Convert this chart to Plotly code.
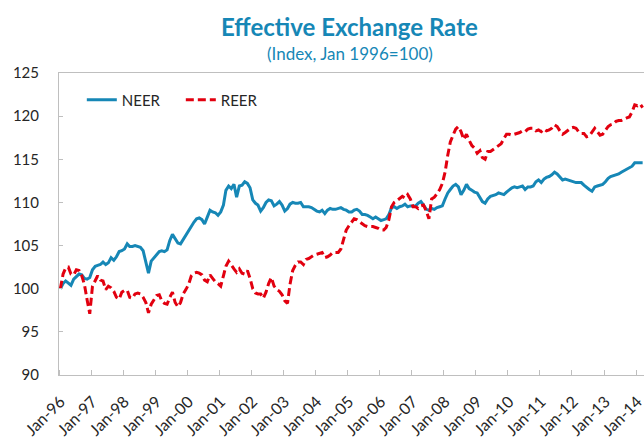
import pandas as pd
import plotly.graph_objects as go

# monthly index, Jan 1996 = 100
months = pd.date_range("1996-01-01", "2014-03-01", freq="MS")

neer = [
    # 1996
    100.0, 100.6, 100.9, 100.6, 100.4, 101.1, 101.4, 101.7, 101.6, 101.2, 101.1, 101.3,
    # 1997
    102.2, 102.6, 102.7, 102.8, 103.1, 102.8, 103.0, 103.6, 103.3, 103.7, 104.3, 104.4,
    # 1998
    104.6, 105.2, 104.9, 104.9, 105.0, 104.9, 104.8, 104.4, 103.2, 101.8, 103.2, 103.6,
    # 1999
    104.0, 104.3, 104.4, 104.3, 104.5, 105.6, 106.3, 105.8, 105.3, 105.2, 105.7, 106.2,
    # 2000
    106.8, 107.2, 107.7, 108.1, 108.2, 108.0, 107.5, 108.3, 109.1, 108.9, 108.8, 108.5,
    # 2001
    108.9, 109.7, 111.4, 111.9, 111.6, 112.1, 110.6, 111.9, 112.0, 112.4, 112.2, 111.7,
    # 2002
    110.3, 109.9, 109.7, 109.0, 109.4, 110.0, 110.3, 110.2, 109.6, 109.8, 110.1, 109.7,
    # 2003
    109.0, 109.3, 109.8, 110.0, 109.9, 109.9, 110.0, 109.5, 109.5, 109.5, 109.4, 109.2,
    # 2004
    109.0, 108.9, 109.1, 108.7, 109.1, 109.3, 109.2, 109.2, 109.3, 109.4, 109.2, 109.1,
    # 2005
    108.9, 108.9, 109.1, 109.2, 109.0, 108.6, 108.6, 108.5, 108.3, 108.1, 108.3, 108.1,
    # 2006
    107.9, 108.0, 108.1, 108.6, 109.4, 109.5, 109.3, 109.5, 109.6, 109.8, 109.5, 109.6,
    # 2007
    109.6, 109.6, 109.9, 110.1, 109.7, 109.2, 109.1, 109.3, 109.2, 109.4, 109.5, 109.6,
    # 2008
    110.4, 111.1, 111.5, 111.9, 112.1, 111.8, 110.9, 111.4, 112.1, 111.6, 111.4, 111.2,
    # 2009
    111.1, 110.6, 110.1, 109.9, 110.4, 110.7, 110.8, 110.9, 111.1, 111.0, 110.9, 111.2,
    # 2010
    111.5, 111.7, 111.8, 111.7, 111.8, 111.9, 111.5, 111.8, 111.8, 111.9, 112.4, 112.6,
    # 2011
    112.3, 112.7, 112.9, 113.0, 113.2, 113.5, 113.3, 112.9, 112.6, 112.7, 112.6, 112.5,
    # 2012
    112.4, 112.3, 112.3, 112.3, 112.0, 111.7, 111.5, 111.3, 111.8, 111.9, 112.0, 112.1,
    # 2013
    112.4, 112.8, 113.0, 113.1, 113.2, 113.3, 113.5, 113.7, 113.9, 114.0, 114.2, 114.6,
    # 2014
    114.6, 114.6, 114.6,
]

reer = [
    # 1996
    100.0, 101.7, 102.4, 102.5, 101.7, 101.6, 102.2, 102.1, 101.5, 100.5, 98.7, 97.1,
    # 1997
    100.3, 100.9, 101.5, 101.0, 100.9, 99.9, 100.3, 100.1, 99.7, 99.0, 98.8, 99.6,
    # 1998
    99.8, 99.8, 99.0, 98.9, 99.4, 99.5, 99.4, 99.0, 98.4, 97.2, 98.2, 98.7,
    # 1999
    99.2, 99.3, 98.6, 98.3, 98.2, 99.0, 99.6, 98.4, 97.9, 98.4, 99.4, 99.9,
    # 2000
    100.5, 101.5, 101.8, 101.9, 101.8, 101.6, 101.0, 100.8, 101.6, 101.2, 100.8, 100.6,
    # 2001
    100.3, 101.5, 102.6, 103.2, 102.7, 102.3, 101.9, 102.3, 101.8, 101.7, 102.1, 101.2,
    # 2002
    100.0, 99.5, 99.4, 99.4, 98.9, 99.6, 100.6, 101.3, 100.3, 99.9, 99.7, 99.3,
    # 2003
    98.6, 98.3, 100.5, 102.1, 102.7, 103.1, 103.1, 102.8, 103.4, 103.5, 103.7, 103.9,
    # 2004
    104.0, 104.1, 104.2, 103.6, 103.7, 103.9, 104.2, 104.2, 104.2, 104.6, 105.7, 106.8,
    # 2005
    107.3, 107.8, 108.1, 108.0, 107.8, 107.5, 107.3, 107.2, 107.2, 107.2, 107.1, 107.0,
    # 2006
    106.8, 106.8, 107.1, 108.0, 109.5, 110.0, 110.2, 110.4, 110.7, 110.5, 110.9, 110.4,
    # 2007
    109.5, 109.5, 109.3, 109.6, 109.7, 109.0, 108.1, 110.4, 110.6, 111.0, 111.5, 112.2,
    # 2008
    113.5, 115.5, 117.0, 117.8, 118.5, 118.8, 118.2, 117.3, 117.9, 117.2, 116.6, 116.3,
    # 2009
    115.7, 116.0, 115.2, 115.0, 115.9, 115.9, 116.1, 116.4, 116.6, 116.8, 117.4, 117.9,
    # 2010
    117.9, 117.8, 117.9, 118.0, 118.1, 118.3, 118.2, 118.5, 118.6, 118.6, 118.3, 118.4,
    # 2011
    118.2, 118.5, 118.3, 118.4, 118.6, 119.0, 118.8, 118.3, 117.9, 118.1, 118.4, 118.6,
    # 2012
    118.7, 118.6, 118.2, 118.0, 118.0, 117.6, 117.7, 118.2, 118.6, 118.2, 117.8, 117.9,
    # 2013
    118.4, 118.8, 119.0, 119.1, 119.4, 119.5, 119.5, 119.7, 119.8, 119.9, 120.5, 121.3,
    # 2014
    121.2, 121.4, 121.0,
]

tick_years = list(range(1996, 2015))
tick_text = ["Jan-%02d" % (y % 100) for y in tick_years]
tick_vals = [pd.Timestamp(year=y, month=1, day=1) for y in tick_years]
# Excel-style category boundaries: tick marks sit half a month before each January
boundary_vals = [t - pd.Timedelta(days=15.5) for t in tick_vals]

BLUE = "#1687b6"
RED = "#e2000f"
FONT = "Lato"
AXIS = "#bfbfbf"

fig = go.Figure()
fig.add_trace(go.Scatter(x=months, y=neer, name="NEER", mode="lines",
                         line=dict(color=BLUE, width=3)))
fig.add_trace(go.Scatter(x=months, y=reer, name="REER", mode="lines",
                         line=dict(color=RED, width=3, dash="8px,4px")))

fig.update_layout(
    width=644, height=439,
    margin=dict(l=59, r=0, t=73, b=64, autoexpand=False),
    paper_bgcolor="white", plot_bgcolor="white",
    font=dict(family=FONT, size=15, color="#262626"),
    showlegend=True,
    legend=dict(orientation="h", x=0.039, y=0.965, xanchor="left", yanchor="top",
                bgcolor="rgba(0,0,0,0)", font=dict(size=15, color="#262626"),
                itemwidth=30, entrywidth=54),
)
fig.add_annotation(text="<b>Effective Exchange Rate</b>", xref="paper", yref="paper",
                   x=0.497, y=1.155, xanchor="center", yanchor="middle",
                   showarrow=False, font=dict(size=24, color=BLUE, family=FONT))
fig.add_annotation(text="(Index, Jan 1996=100)", xref="paper", yref="paper",
                   x=0.497, y=1.066, xanchor="center", yanchor="middle",
                   showarrow=False, font=dict(size=17, color=BLUE, family=FONT))

fig.update_xaxes(
    range=["1995-12-16 12:00", "2014-03-16 12:00"],
    tickmode="array", tickvals=tick_vals, ticktext=tick_text, tickangle=-45,
    ticks="", ticklabelstandoff=10, ticklabeloverflow="allow",
    minor=dict(tickmode="array", tickvals=boundary_vals, ticks="inside",
               ticklen=5, tickcolor=AXIS, showgrid=False),
    showline=True, linecolor=AXIS, linewidth=1, mirror=True,
    showgrid=False, zeroline=False, automargin=False,
    tickfont=dict(size=16, color="#262626"),
)
fig.update_yaxes(
    range=[90, 125], dtick=5, tick0=90,
    ticks="inside", ticklen=4, tickcolor=AXIS,
    showline=True, linecolor=AXIS, linewidth=1,
    showgrid=False, zeroline=False, ticklabelstandoff=16, automargin=False,
    tickfont=dict(size=15, color="#262626"),
)

# drop the browser's default 8px body margin so the 644x439 figure fills the window
fig.write_html("out.html", config={"displayModeBar": False},
               post_script="document.body.style.margin='0';document.body.style.overflow='hidden';")
